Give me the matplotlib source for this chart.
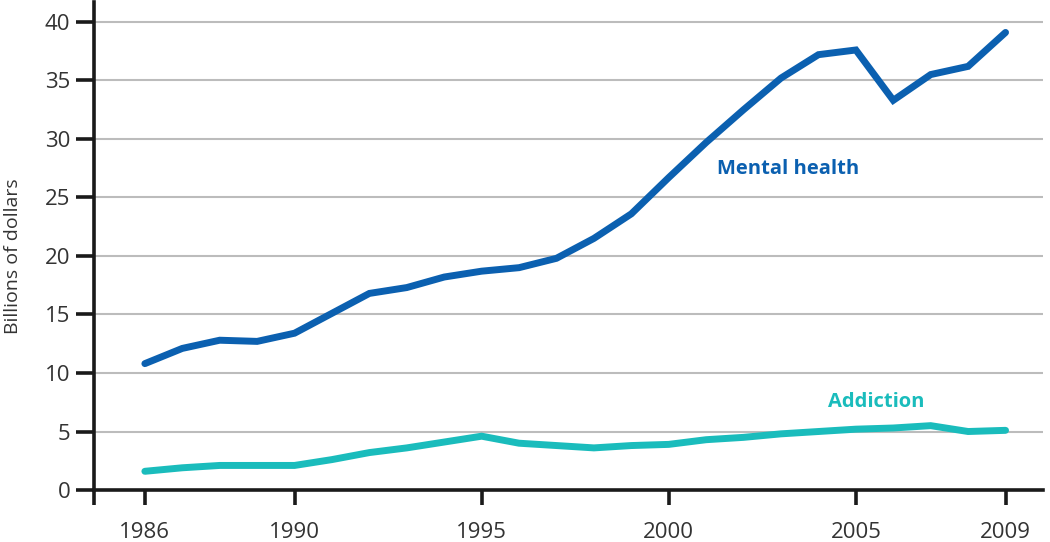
import matplotlib
matplotlib.use('Agg')
from matplotlib import pyplot as plt
import numpy as np

years = list(range(1986, 2010))
mental_health = [10.8, 12.1, 12.8, 12.7, 13.4, 15.1, 16.8, 17.3, 18.2, 18.7, 19.0, 19.8,
                 21.5, 23.6, 26.7, 29.7, 32.5, 35.2, 37.2, 37.6, 33.3, 35.5, 36.2, 39.1]
addiction = [1.6, 1.9, 2.1, 2.1, 2.1, 2.6, 3.2, 3.6, 4.1, 4.6, 4.0, 3.8,
             3.6, 3.8, 3.9, 4.3, 4.5, 4.8, 5.0, 5.2, 5.3, 5.5, 5.0, 5.1]
x_ticks = [1986, 1990, 1995, 2000, 2005, 2009]
y_ticks = [0, 5, 10, 15, 20, 25, 30, 35, 40]

blue = '#0b60b0'
teal = '#1abcbc'

plt.rcParams['font.family'] = ['Open Sans', 'DejaVu Sans']

fig = plt.figure(figsize=(10.5, 5.42), dpi=100)
ax = fig.add_axes([0.0895, 0.0959, 0.9038, 0.9004])

ax.set_xlim(1984.64, 2010.0)
ax.set_ylim(0, 41.7)

for v in y_ticks[1:]:
    ax.axhline(v, color='#bcbcbc', lw=1.5, zorder=1)

ax.plot(years, mental_health, color=blue, lw=5, solid_capstyle='round', solid_joinstyle='miter', zorder=3)
ax.plot(years, addiction, color=teal, lw=5, solid_capstyle='round', solid_joinstyle='miter', zorder=3)

ax.text(2003.2, 27.4, 'Mental health', color=blue, fontsize=14.5, fontweight='bold', ha='center', va='center')
ax.text(2005.55, 7.5, 'Addiction', color=teal, fontsize=14.5, fontweight='bold', ha='center', va='center')

for s in ['top', 'right']:
    ax.spines[s].set_visible(False)
for s in ['left', 'bottom']:
    ax.spines[s].set_linewidth(2.6)
    ax.spines[s].set_color('#1a1a1a')

ax.set_yticks(y_ticks)
ax.set_yticklabels([str(v) for v in y_ticks])
ax.set_xticks([1984.64] + x_ticks)
ax.set_xticklabels([''] + [str(v) for v in x_ticks])
ax.tick_params(axis='y', length=13, width=2.6, color='#1a1a1a', pad=4, labelsize=16, labelcolor='#333333')
ax.tick_params(axis='x', length=11, width=2.6, color='#1a1a1a', pad=12, labelsize=16, labelcolor='#333333')

ax.set_ylabel('Billions of dollars', fontsize=14, color='#333333', labelpad=8)
ax.yaxis.set_label_coords(-0.076, 0.48)

fig.savefig('out.png', dpi=100)
